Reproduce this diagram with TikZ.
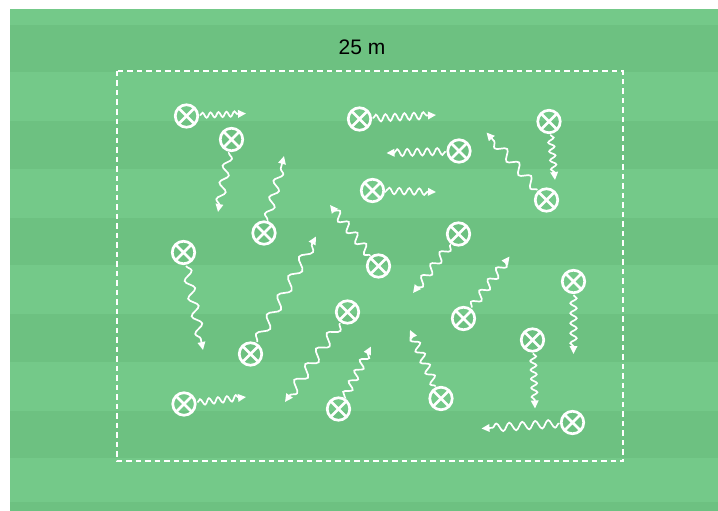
\documentclass[tikz,border=0pt]{standalone}
\usepackage{fontspec}
\setmainfont{Liberation Sans}
\usetikzlibrary{decorations.pathmorphing,arrows.meta}
\definecolor{lightg}{RGB}{116,201,137}
\definecolor{darkg}{RGB}{109,193,129}
\tikzset{
  player/.style={circle, draw=white, line width=2.7pt, minimum size=22.5pt, inner sep=0pt,
    path picture={\draw[white, line width=2.7pt]
      (path picture bounding box.north west) -- (path picture bounding box.south east)
      (path picture bounding box.north east) -- (path picture bounding box.south west);}},
  mv/.style 2 args={draw=white, line width=1.7pt, shorten <=1pt, -{Triangle[length=8pt,width=7.5pt]},
    decorate, decoration={snake, amplitude=#1, segment length=#2, post length=5pt, pre length=1pt}},
  zone/.style={draw=white, line width=1.8pt, dash pattern=on 5.5pt off 4pt},
}
\begin{document}
\begin{tikzpicture}[x=1pt,y=-1pt]
\useasboundingbox (0,0) rectangle (718,511);
\fill[white] (0,0) rectangle (718,511);
\fill[lightg] (10,9) rectangle (718,511);
\foreach \s in {25,121.4,217.8,314.2,410.6}{
  \fill[darkg] (10,\s) rectangle (718,\s+47.5);
}
\fill[darkg] (10,502) rectangle (718,511);
\draw[zone] (117,71) rectangle (623,461);
\node (title) at (362,47) {\fontsize{21}{25}\selectfont 25 m};
% players
\node[player] (A) at (186.5,116) {};
\node[player] (B) at (231.5,139.5) {};
\node[player] (C) at (264,233) {};
\node[player] (D) at (359.5,119) {};
\node[player] (E) at (459,151) {};
\node[player] (F) at (372.5,190.5) {};
\node[player] (G) at (549,121.5) {};
\node[player] (H) at (546.5,200) {};
\node[player] (I) at (183.5,252.5) {};
\node[player] (J) at (250.5,354) {};
\node[player] (K) at (184,404) {};
\node[player] (L) at (347.5,312) {};
\node[player] (M) at (338.5,409) {};
\node[player] (N) at (458.5,234) {};
\node[player] (O) at (463.5,318.5) {};
\node[player] (P) at (573.5,281.5) {};
\node[player] (Q) at (532.5,340) {};
\node[player] (R) at (441,398.5) {};
\node[player] (S) at (572.5,422.5) {};
\node[player] (T) at (378.5,266) {};
% arrow tips
\coordinate (tA) at (246,113.5);
\coordinate (tB) at (218,212);
\coordinate (tC) at (284,156);
\coordinate (tD) at (436,115);
\coordinate (tE) at (386.5,153);
\coordinate (tF) at (436,192);
\coordinate (tG) at (555,180);
\coordinate (tH) at (486.5,132.5);
\coordinate (tI) at (203,350);
\coordinate (tJ) at (316,236.5);
\coordinate (tK) at (246,397);
\coordinate (tL) at (285,402);
\coordinate (tM) at (371,346.5);
\coordinate (tN) at (413,293);
\coordinate (tO) at (509.5,256.5);
\coordinate (tP) at (573.5,354);
\coordinate (tQ) at (535,408.5);
\coordinate (tR) at (410,330);
\coordinate (tS) at (481.5,428.5);
\coordinate (tT) at (330,205);
% movements
\draw[mv={2.6}{8}] (A) -- (tA);
\draw[mv={4}{17}] (B) -- (tB);
\draw[mv={4}{17}] (C) -- (tC);
\draw[mv={3.5}{9.5}] (D) -- (tD);
\draw[mv={3.5}{10}] (E) -- (tE);
\draw[mv={3.2}{10}] (F) -- (tF);
\draw[mv={3}{9}] (G) -- (tG);
\draw[mv={4.5}{18}] (H) -- (tH);
\draw[mv={4.5}{18}] (I) -- (tI);
\draw[mv={5}{22}] (J) -- (tJ);
\draw[mv={3}{9}] (K) -- (tK);
\draw[mv={5}{19}] (L) -- (tL);
\draw[mv={3.8}{12}] (M) -- (tM);
\draw[mv={4}{15}] (N) -- (tN);
\draw[mv={4}{14}] (O) -- (tO);
\draw[mv={3.2}{10}] (P) -- (tP);
\draw[mv={3}{9}] (Q) -- (tQ);
\draw[mv={4}{12}] (R) -- (tR);
\draw[mv={4}{13}] (S) -- (tS);
\draw[mv={4.2}{14}] (T) -- (tT);
\end{tikzpicture}
\end{document}
